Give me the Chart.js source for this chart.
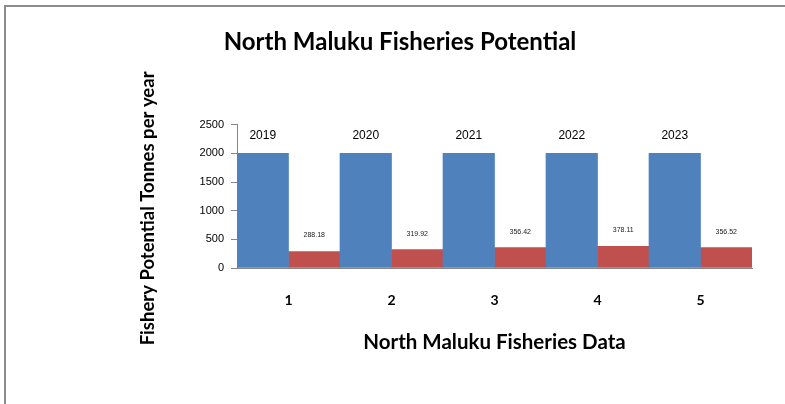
<!DOCTYPE html>
<html lang="en">
<head>
  <meta charset="UTF-8">
  <title>North Maluku Fisheries Potential</title>
  <script src="https://cdn.jsdelivr.net/npm/chart.js"></script>
  <style>
    body { margin: 0; background: #fff; overflow: hidden; }
    #wrap { position: relative; width: 785px; height: 404px; }
    #frame {
      position: absolute; left: 4px; top: 5px; width: 820px; height: 440px;
      border-top: 2px solid #8c8c8c; border-left: 2px solid #8c8c8c;
      pointer-events: none;
    }
    canvas { position: absolute; left: 0; top: 0; }
  </style>
</head>
<body>
  <div id="wrap">
    <canvas id="fishChart" width="785" height="404"></canvas>
    <div id="frame"></div>
  </div>

  <script>
    // data
    const categories = ['1', '2', '3', '4', '5'];
    const years = ['2019', '2020', '2021', '2022', '2023'];
    const potential = [2000, 2000, 2000, 2000, 2000];
    const production = [288.18, 319.92, 356.42, 378.11, 356.52];
    const yTicks = [0, 500, 1000, 1500, 2000, 2500];
    const yTitle = 'Fishery Potential Tonnes per year';

    const calibri = 'Lato, "Open Sans", sans-serif';
    const arial = '"Liberation Sans", Arial, sans-serif';

    // labels above the bars (years on blue, values on red)
    // + the y axis title, which sits a bit below the axis middle in the original
    const barLabels = {
      id: 'barLabels',
      afterDatasetsDraw(chart) {
        const ctx = chart.ctx;
        ctx.save();
        ctx.textAlign = 'center';
        ctx.textBaseline = 'middle';
        ctx.fillStyle = '#000';
        chart.getDatasetMeta(0).data.forEach((bar, i) => {
          ctx.font = '12px ' + arial;
          ctx.fillText(years[i], bar.x, bar.y - 18);
        });
        chart.getDatasetMeta(1).data.forEach((bar, i) => {
          ctx.font = '7px ' + arial;
          ctx.fillStyle = '#222';
          ctx.fillText(production[i].toFixed(2), bar.x, bar.y - 16);
        });
        const area = chart.chartArea;
        const ys = chart.scales.y;
        ctx.fillStyle = '#000';
        ctx.font = 'bold 18.5px ' + calibri;
        ctx.translate(ys.left + 100, (area.top + area.bottom) / 2 + 12);
        ctx.rotate(-Math.PI / 2);
        ctx.fillText(yTitle, 0, 0);
        ctx.restore();
      }
    };

    new Chart(document.getElementById('fishChart'), {
      type: 'bar',
      data: {
        labels: categories,
        datasets: [
          {
            label: 'Potential',
            data: potential,
            backgroundColor: '#4F81BD',
            categoryPercentage: 1.0,
            barPercentage: 1.0
          },
          {
            label: 'Production',
            data: production,
            backgroundColor: '#C0504D',
            categoryPercentage: 1.0,
            barPercentage: 1.0
          }
        ]
      },
      options: {
        responsive: false,
        animation: false,
        layout: { padding: { left: 48, right: 33, top: 20, bottom: 46 } },
        plugins: {
          legend: { display: false },
          tooltip: { enabled: false },
          title: {
            display: true,
            text: 'North Maluku Fisheries Potential',
            color: '#000',
            font: { family: calibri, size: 24, weight: 'bold' },
            padding: { top: 8, bottom: 68 }
          }
        },
        scales: {
          x: {
            grid: { display: true, drawOnChartArea: false, drawTicks: false, tickLength: 0 },
            border: { color: '#868686', width: 1 },
            ticks: { color: '#000', padding: 24, font: { family: calibri, size: 14, weight: 'bold' } },
            title: {
              display: true,
              text: 'North Maluku Fisheries Data',
              color: '#000',
              font: { family: calibri, size: 20.5, weight: 'bold' },
              padding: { top: 0, bottom: 3 }
            },
            afterFit(scale) { scale.height = 90; }
          },
          y: {
            min: yTicks[0],
            max: yTicks[yTicks.length - 1],
            afterBuildTicks(scale) { scale.ticks = yTicks.map(v => ({ value: v })); },
            grid: { drawOnChartArea: false, drawTicks: true, tickLength: 6, color: '#868686' },
            border: { color: '#868686', width: 1 },
            ticks: {
              color: '#000', padding: 7, font: { family: arial, size: 11 },
              callback: v => String(v)
            },
            title: { display: false },
            afterFit(scale) { scale.width = 189; }
          }
        }
      },
      plugins: [barLabels]
    });
  </script>
</body>
</html>
